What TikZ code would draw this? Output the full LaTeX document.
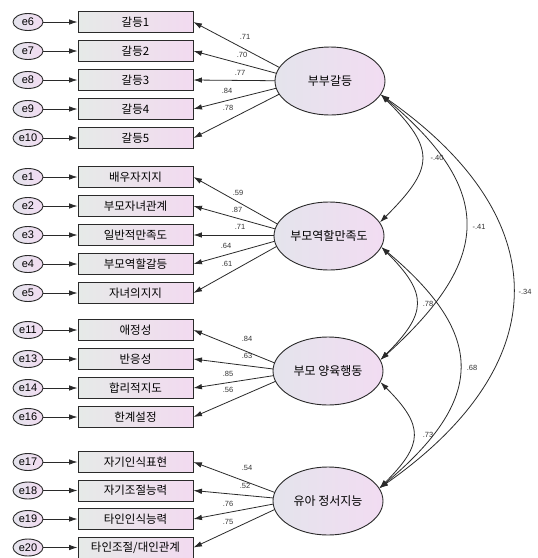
\documentclass[tikz,border=0pt]{standalone}
\usepackage{fontspec}
\setmainfont{Liberation Sans}
\newfontfamily\krfont{Noto Sans CJK KR}
\usepackage{tikz}
\usetikzlibrary{shapes,arrows,positioning,calc,arrows.meta,backgrounds}

\definecolor{boxL}{HTML}{E6EAE8}
\definecolor{boxR}{HTML}{F2DAF0}
\definecolor{ellL}{HTML}{E4E4EC}
\definecolor{ellR}{HTML}{F2DCF2}
\definecolor{lineC}{HTML}{2A2A2A}

\tikzset{
  errv/.style={draw=lineC, ellipse, line width=0.9pt, minimum width=30pt, minimum height=17pt,
    inner sep=0pt, left color=ellL, right color=ellR, font=\fontsize{11}{12}\selectfont},
  obsbox/.style={draw=lineC, rectangle, line width=0.9pt, minimum width=115pt, minimum height=21pt,
    inner sep=0pt, left color=boxL, right color=boxR, font=\krfont\fontsize{11.5}{12}\selectfont},
  latent/.style={draw=lineC, ellipse, line width=0.9pt, minimum width=110pt, minimum height=68pt,
    inner sep=0pt, left color=ellL, right color=ellR, font=\krfont\fontsize{12}{13}\selectfont},
  coef/.style={inner sep=0pt, font=\fontsize{7.5}{8}\selectfont, text=black!80},
  arr/.style={-{Latex[length=8.5pt,width=5.5pt]}, line width=0.8pt, draw=lineC},
  dbl/.style={{Latex[length=8.5pt,width=5.5pt]}-{Latex[length=8.5pt,width=5.5pt]}, line width=0.8pt, draw=lineC}
}

\begin{document}
\begin{tikzpicture}[x=1pt,y=1pt]
    \useasboundingbox (0,0) rectangle (538,-558);

    % latent variables
    \node[latent] (conf) at (330,-81) {부부갈등};
    \node[latent] (sat) at (329,-236) {부모역할만족도};
    \node[latent] (par) at (328,-371) {부모 양육행동};
    \node[latent] (emo) at (328,-501) {유아 정서지능};

    % where the loading lines meet (hidden behind the ellipses)
    \coordinate (h1) at (305,-81);
    \coordinate (h2) at (297,-235);
    \coordinate (h3) at (297,-372);
    \coordinate (h4) at (295,-500);

    % 부부갈등 indicators
    \node[errv] (e6) at (28,-22) {e6};
    \node[errv] (e7) at (28,-51) {e7};
    \node[errv] (e8) at (28,-80) {e8};
    \node[errv] (e9) at (28,-109) {e9};
    \node[errv] (e10) at (28,-138) {e10};
    \node[obsbox] (c1) at (135.5,-22) {갈등1};
    \node[obsbox] (c2) at (135.5,-51) {갈등2};
    \node[obsbox] (c3) at (135.5,-80) {갈등3};
    \node[obsbox] (c4) at (135.5,-109) {갈등4};
    \node[obsbox] (c5) at (135.5,-138) {갈등5};

    % 부모역할만족도 indicators
    \node[errv] (e1) at (28,-177) {e1};
    \node[errv] (e2) at (28,-206) {e2};
    \node[errv] (e3) at (28,-235) {e3};
    \node[errv] (e4) at (28,-264) {e4};
    \node[errv] (e5) at (28,-293) {e5};
    \node[obsbox] (s1) at (135.5,-177) {배우자지지};
    \node[obsbox] (s2) at (135.5,-206) {부모자녀관계};
    \node[obsbox] (s3) at (135.5,-235) {일반적만족도};
    \node[obsbox] (s4) at (135.5,-264) {부모역할갈등};
    \node[obsbox] (s5) at (135.5,-293) {자녀의지지};

    % 부모 양육행동 indicators
    \node[errv] (e11) at (28,-330) {e11};
    \node[errv] (e13) at (28,-359) {e13};
    \node[errv] (e14) at (28,-388) {e14};
    \node[errv] (e16) at (28,-417) {e16};
    \node[obsbox] (p1) at (135.5,-330) {애정성};
    \node[obsbox] (p2) at (135.5,-359) {반응성};
    \node[obsbox] (p3) at (135.5,-388) {합리적지도};
    \node[obsbox] (p4) at (135.5,-417) {한계설정};

    % 유아 정서지능 indicators
    \node[errv] (e17) at (28,-462) {e17};
    \node[errv] (e18) at (28,-490.5) {e18};
    \node[errv] (e19) at (28,-519) {e19};
    \node[errv] (e20) at (28,-547.5) {e20};
    \node[obsbox] (q1) at (135.5,-462) {자기인식표현};
    \node[obsbox] (q2) at (135.5,-490.5) {자기조절능력};
    \node[obsbox] (q3) at (135.5,-519) {타인인식능력};
    \node[obsbox] (q4) at (135.5,-547.5) {타인조절/대인관계};

    % error terms
    \draw[arr] (e6) -- (c1);
    \draw[arr] (e7) -- (c2);
    \draw[arr] (e8) -- (c3);
    \draw[arr] (e9) -- (c4);
    \draw[arr] (e10) -- (c5);
    \draw[arr] (e1) -- (s1);
    \draw[arr] (e2) -- (s2);
    \draw[arr] (e3) -- (s3);
    \draw[arr] (e4) -- (s4);
    \draw[arr] (e5) -- (s5);
    \draw[arr] (e11) -- (p1);
    \draw[arr] (e13) -- (p2);
    \draw[arr] (e14) -- (p3);
    \draw[arr] (e16) -- (p4);
    \draw[arr] (e17) -- (q1);
    \draw[arr] (e18) -- (q2);
    \draw[arr] (e19) -- (q3);
    \draw[arr] (e20) -- (q4);

    % factor loadings (behind the ellipses)
    \begin{pgfonlayer}{background}
    \fill[white] (0,0) rectangle (538,-558);
    \draw[arr] (h1) -- (c1.east);
    \draw[arr] (h1) -- (c2.east);
    \draw[arr] (h1) -- (c3.east);
    \draw[arr] (h1) -- (c4.east);
    \draw[arr] (h1) -- (c5.east);
    \draw[arr] (h2) -- (s1.east);
    \draw[arr] (h2) -- (s2.east);
    \draw[arr] (h2) -- (s3.east);
    \draw[arr] (h2) -- (s4.east);
    \draw[arr] (h2) -- (s5.east);
    \draw[arr] (h3) -- (p1.east);
    \draw[arr] (h3) -- (p2.east);
    \draw[arr] (h3) -- (p3.east);
    \draw[arr] (h3) -- (p4.east);
    \draw[arr] (h4) -- (q1.east);
    \draw[arr] (h4) -- (q2.east);
    \draw[arr] (h4) -- (q3.east);
    \draw[arr] (h4) -- (q4.east);
    \end{pgfonlayer}

    \node[coef] (lc1) at (245,-37) {.71};
    \node[coef] (lc2) at (242,-55) {.70};
    \node[coef] (lc3) at (240,-73) {.77};
    \node[coef] (lc4) at (227,-91) {.84};
    \node[coef] (lc5) at (228,-108) {.78};
    \node[coef] (ls1) at (238,-193) {.59};
    \node[coef] (ls2) at (237,-210) {.87};
    \node[coef] (ls3) at (240,-227) {.71};
    \node[coef] (ls4) at (226,-246) {.64};
    \node[coef] (ls5) at (227,-264) {.61};
    \node[coef] (lp1) at (247,-339) {.84};
    \node[coef] (lp2) at (247,-356) {.63};
    \node[coef] (lp3) at (228,-374) {.85};
    \node[coef] (lp4) at (228,-390) {.56};
    \node[coef] (lq1) at (247,-468) {.54};
    \node[coef] (lq2) at (245,-486) {.52};
    \node[coef] (lq3) at (228,-504) {.76};
    \node[coef] (lq4) at (228,-522) {.75};

    % correlations
    \draw[dbl] (conf.-15) to[out=-45,in=45,looseness=1.55] (sat.15);
    \draw[dbl] (conf.-15) to[out=-40,in=42,looseness=1.45] (par.12);
    \draw[dbl] (conf.-15) to[out=-35,in=35,looseness=1.4] (emo.14);
    \draw[dbl] (sat.-12) to[out=-45,in=45,looseness=1.5] (par.12);
    \draw[dbl] (sat.-12) to[out=-40,in=40,looseness=1.46] (emo.14);
    \draw[dbl] (par.-12) to[out=-45,in=45,looseness=1.5] (emo.14);

    \node[coef] (r12) at (437,-158) {-.40};
    \node[coef] (r13) at (479,-227) {-.41};
    \node[coef] (r14) at (525,-292) {-.34};
    \node[coef] (r23) at (428,-304) {.78};
    \node[coef] (r24) at (472,-368) {.68};
    \node[coef] (r34) at (428,-435) {.73};
\end{tikzpicture}
\end{document}
